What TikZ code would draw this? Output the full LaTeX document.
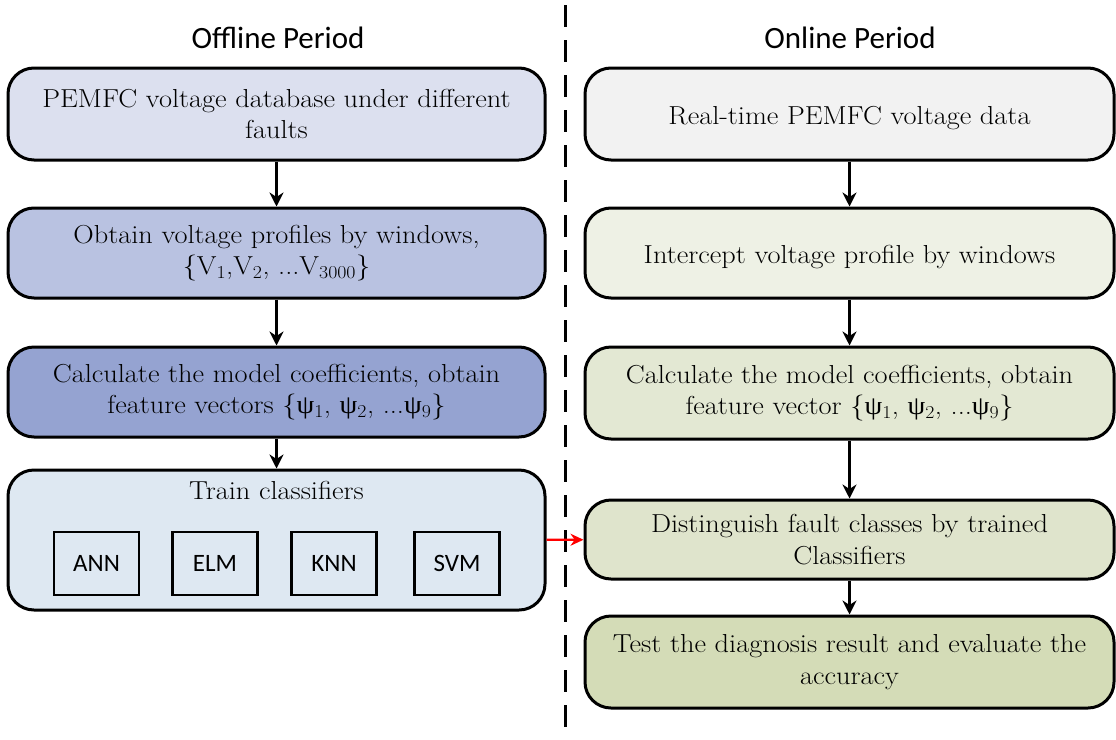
\documentclass[tikz,border=0pt]{standalone}
\usepackage{fontspec}
\setmainfont{Latin Modern Roman}[FakeStretch=1.09]
\newfontfamily\calib{Carlito}
\newfontfamily\grk{Liberation Serif}[FakeStretch=1.09]
\usetikzlibrary{arrows.meta}
\definecolor{lA}{HTML}{DCE0EF}
\definecolor{lB}{HTML}{B9C2E1}
\definecolor{lC}{HTML}{95A3D1}
\definecolor{lD}{HTML}{DEE8F2}
\definecolor{rA}{HTML}{F2F2F2}
\definecolor{rB}{HTML}{EEF1E5}
\definecolor{rC}{HTML}{E3E8D3}
\definecolor{rD}{HTML}{DFE4CC}
\definecolor{rE}{HTML}{D4DCB7}
\newcommand{\psy}[1]{{\grk ψ}\textsubscript{#1}}
\newcommand{\lowr}[1]{\raisebox{-4pt}[\height][\depth]{#1}}
\tikzset{
  box/.style={draw=black, line width=3pt, rounded corners=26pt, minimum width=537pt,
    text width=520pt, align=center, inner sep=0pt,
    font=\fontsize{26}{31.5}\selectfont},
  rbox/.style={box, minimum width=529pt, text width=515pt},
  small/.style={draw=black, line width=2.8pt, minimum width=85pt, minimum height=63pt,
    inner sep=0pt, font=\calib\fontsize{25}{28}\selectfont},
  title/.style={font=\calib\fontsize{31}{34}\selectfont},
  arr/.style={-{Stealth[length=14pt,width=14pt]}, line width=2.6pt},
}
\begin{document}
\begin{tikzpicture}[x=1pt,y=-1pt]
\useasboundingbox (0,0) rectangle (1116,739);
\draw[line width=3pt, dash pattern=on 22pt off 13pt] (565,5) -- (565,739);
\node[title] (t1) at (278,38) {Offline Period};
\node[title] (t2) at (850,38) {Online Period};

\node[box, fill=lA, minimum height=92pt] (l1) at (276.5,114) {PEMFC voltage database under different\\ faults};
\node[box, fill=lB, minimum height=90pt] (l2) at (276.5,253) {Obtain voltage profiles by windows,\\ \{V\textsubscript{1},V\textsubscript{2}, ...V\textsubscript{3000}\}};
\node[box, fill=lC, minimum height=90pt] (l3) at (276.5,392) {Calculate the model coefficients, obtain\\ feature vectors \{\psy{1}, \psy{2}, ...\psy{9}\}};
\node[box, fill=lD, minimum height=140pt] (l4) at (276.5,540) {};
\node[font=\fontsize{26}{31}\selectfont] (l4t) at (276.5,490) {Train classifiers};
\node[small] (ann) at (96.5,563.5) {ANN};
\node[small] (elm) at (215,563.5) {ELM};
\node[small] (knn) at (334,563.5) {KNN};
\node[small] (svm) at (457,563.5) {SVM};

\node[rbox, fill=rA, minimum height=92pt] (r1) at (849.5,114) {\lowr{Real-time PEMFC voltage data}};
\node[rbox, fill=rB, minimum height=90pt] (r2) at (849.5,253) {\lowr{Intercept voltage profile by windows}};
\node[rbox, fill=rC, minimum height=92pt] (r3) at (849.5,393) {Calculate the model coefficients, obtain\\ feature vector \{\psy{1}, \psy{2}, ...\psy{9}\}};
\node[rbox, fill=rD, minimum height=79pt] (r4) at (849.5,539.5) {Distinguish fault classes by trained\\ Classifiers};
\node[rbox, fill=rE, minimum height=92pt] (r5) at (849.5,662) {Test the diagnosis result and evaluate the\\ accuracy};

\draw[arr] (l1) -- (l2);
\draw[arr] (l2) -- (l3);
\draw[arr] (l3) -- (l4);
\draw[arr] (r1) -- (r2);
\draw[arr] (r2) -- (r3);
\draw[arr] (r3) -- (r4);
\draw[arr] (r4) -- (r5);
\draw[red, line width=2.4pt, -{Stealth[length=13pt,width=12pt]}] (l4) -- (r4);
\end{tikzpicture}
\end{document}
